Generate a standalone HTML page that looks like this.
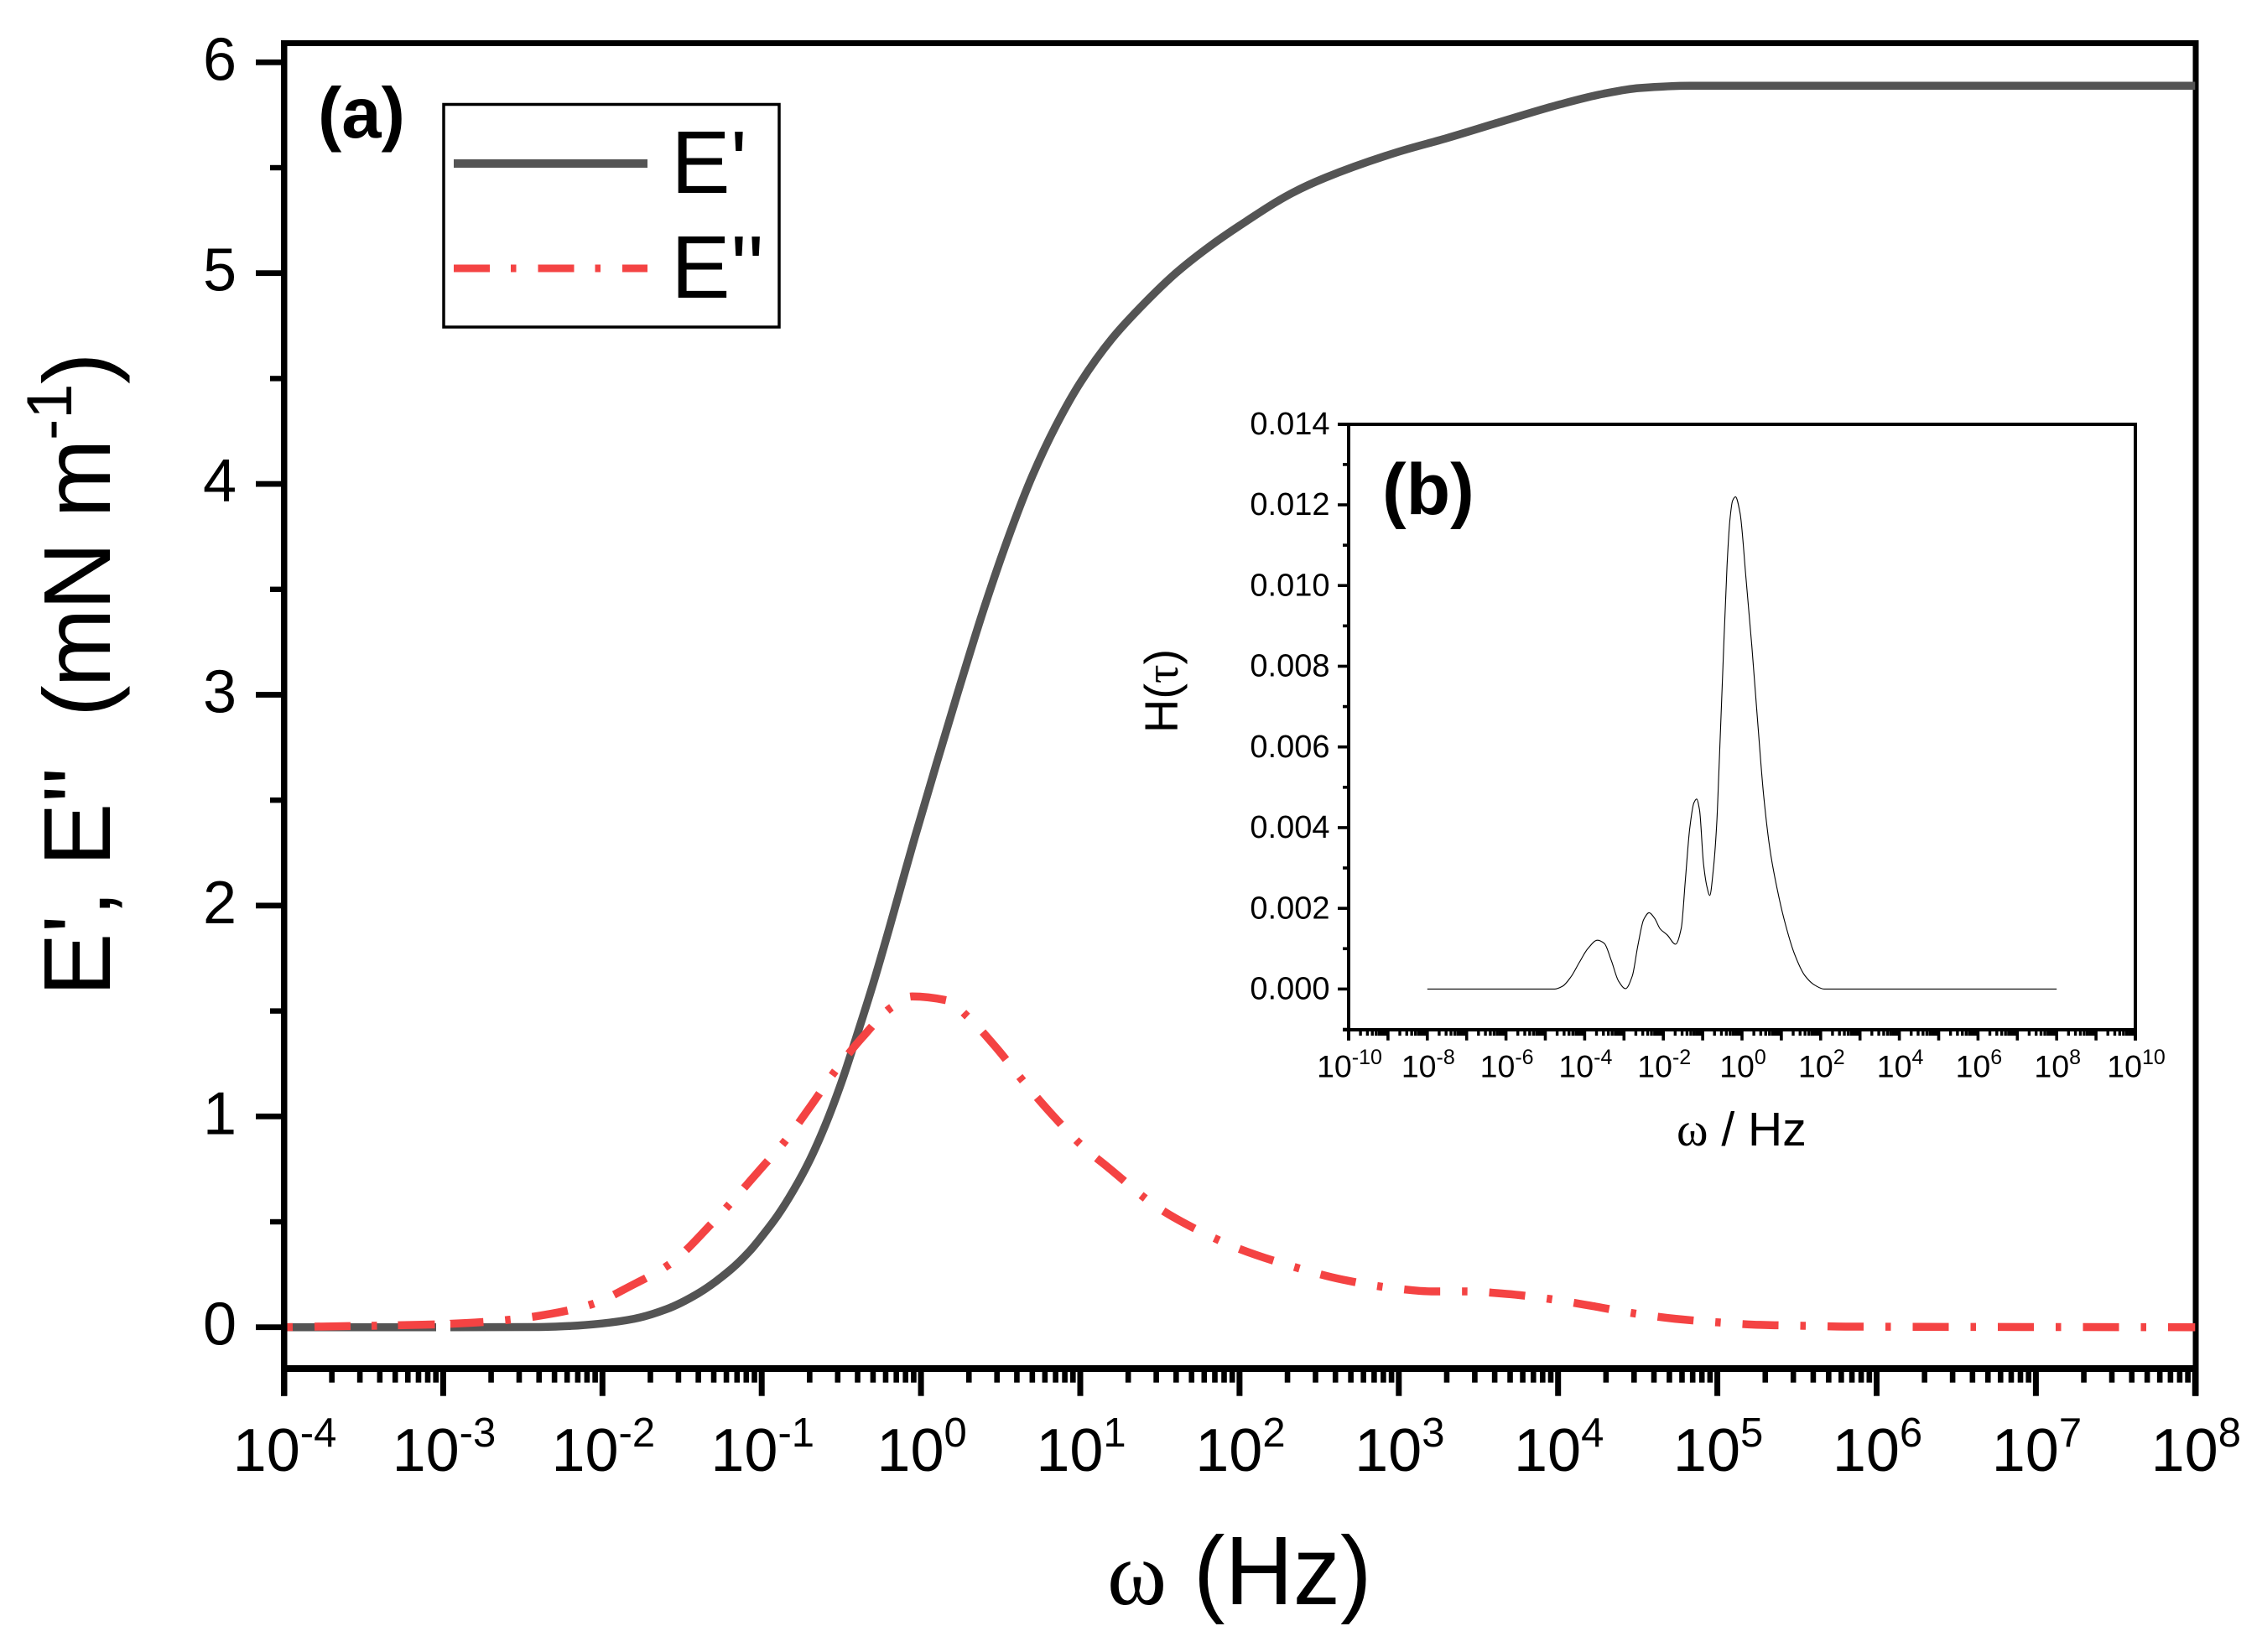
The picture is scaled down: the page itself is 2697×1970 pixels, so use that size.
<!DOCTYPE html>
<html lang="en">
<head>
<meta charset="utf-8">
<title>E' and E'' versus frequency with relaxation spectrum inset</title>
<style>
html,body{margin:0;padding:0;background:#fff;}
svg{display:block;}
text{font-family:"Liberation Sans",sans-serif;fill:#000;}
.serif{font-family:"Liberation Serif",serif;}
</style>
</head>
<body>
<svg id="chart" xmlns="http://www.w3.org/2000/svg" width="2697" height="1970" viewBox="0 0 2697 1970">
  <rect x="0" y="0" width="2697" height="1970" fill="#fff"/>
  <g id="main-axes"></g>
  <g id="main-series"></g>
  <g id="main-left-axis"></g>

  <text x="379" y="164" font-size="85" font-weight="bold">(a)</text>

  <g>
    <rect x="529" y="124.5" width="400" height="265.5" fill="none" stroke="#000" stroke-width="3.5"/>
    <line x1="541" y1="195" x2="772" y2="195" stroke="#545454" stroke-width="10"/>
    <text x="800" y="230" font-size="106">E'</text>
    <line x1="541" y1="320" x2="772" y2="320" stroke="#f44343" stroke-width="9" stroke-dasharray="43 25 6.5 26"/>
    <text x="800" y="355" font-size="106">E''</text>
  </g>

  <g transform="translate(131,0) rotate(-90)">
    <text x="0" y="0" font-size="113"><tspan x="-1188">E'</tspan><tspan x="-1093">,</tspan><tspan x="-1033">E''</tspan><tspan x="-855">(</tspan><tspan x="-819.6">m</tspan><tspan x="-727.7">N</tspan><tspan x="-617.6">m</tspan><tspan x="-525" y="-46" font-size="76">-1</tspan><tspan x="-458" y="0">)</tspan></text>
  </g>

  <g>
    <text class="serif" x="1320" y="1913" font-size="108" style="font-family:'Liberation Serif',serif">ω</text>
    <text transform="translate(1423,1913) scale(0.97,1)" font-size="116">(Hz)</text>
  </g>

  <g id="inset-axes"></g>
  <g id="inset-series"></g>

  <text x="1648" y="613" font-size="86" font-weight="bold">(b)</text>

  <text transform="translate(1404,824) rotate(-90)" font-size="56" text-anchor="middle">H(<tspan style="font-family:'Liberation Serif',serif">τ</tspan>)</text>
  <text x="1999" y="1366" font-size="57"><tspan style="font-family:'Liberation Serif',serif">ω</tspan> / Hz</text>
</svg>

<script>
// ---- Main chart data ----
const mainXDecades = [-4, -3, -2, -1, 0, 1, 2, 3, 4, 5, 6, 7, 8];
const mainYTicks = [0, 1, 2, 3, 4, 5, 6];
const mainYMinorTicks = [0.5, 1.5, 2.5, 3.5, 4.5, 5.5];

const storageLogOmega = [-4, -3, -2.4, -2.2, -2, -1.8, -1.6, -1.4, -1.2, -1.077, -1, -0.9, -0.8, -0.7, -0.6, -0.5, -0.4, -0.3, -0.2, -0.1, -0.04, 0.1, 0.223, 0.4, 0.565, 0.7, 0.85, 1, 1.2, 1.4, 1.6, 1.8, 2, 2.33, 2.54, 3, 3.3, 3.65, 4.01, 4.28, 4.51, 4.83, 8];
const storageModulus = [0, 0, 0.001, 0.006, 0.018, 0.04, 0.085, 0.16, 0.27, 0.36, 0.43, 0.53, 0.65, 0.79, 0.96, 1.16, 1.39, 1.63, 1.89, 2.16, 2.32, 2.68, 2.99, 3.42, 3.78, 4.04, 4.28, 4.48, 4.69, 4.855, 5, 5.12, 5.225, 5.38, 5.453, 5.576, 5.64, 5.72, 5.8, 5.85, 5.878, 5.889, 5.889];

const lossLogOmega = [-4, -3.7, -3.163, -2.847, -2.589, -2.32, -2.062, -1.817, -1.575, -1.304, -0.988, -0.846, -0.689, -0.537, -0.368, -0.184, -0.057, 0.165, 0.297, 0.476, 0.645, 0.818, 1.008, 1.18, 1.487, 1.75, 2.008, 2.33, 2.645, 3.0, 3.204, 3.41, 3.678, 3.946, 4.205, 4.473, 4.734, 5.003, 5.27, 5.54, 5.805, 8];
const lossModulus = [0, 0.004, 0.011, 0.02, 0.035, 0.064, 0.11, 0.198, 0.301, 0.5, 0.767, 0.89, 1.053, 1.217, 1.375, 1.518, 1.569, 1.55, 1.47, 1.323, 1.164, 1.013, 0.863, 0.755, 0.568, 0.456, 0.369, 0.289, 0.226, 0.182, 0.17, 0.17, 0.158, 0.134, 0.102, 0.066, 0.04, 0.023, 0.011, 0.007, 0.003, 0];

// ---- Inset chart data ----
const insetXDecades = [-10, -9, -8, -7, -6, -5, -4, -3, -2, -1, 0, 1, 2, 3, 4, 5, 6, 7, 8, 9, 10];
const insetXLabels = [-10, -8, -6, -4, -2, 0, 2, 4, 6, 8, 10];
const insetYTicks = [0, 0.002, 0.004, 0.006, 0.008, 0.01, 0.012, 0.014];
const insetYMinorTicks = [-0.001, 0.001, 0.003, 0.005, 0.007, 0.009, 0.011, 0.013];

const spectrumLogOmega = [-8, -4.76, -4.56, -4.35, -4.135, -3.92, -3.674, -3.5, -3.32, -3.14, -2.96, -2.79, -2.645, -2.5, -2.36, -2.22, -2.08, -1.9, -1.69, -1.544, -1.44, -1.33, -1.225, -1.154, -1.08, -0.98, -0.89, -0.82, -0.73, -0.64, -0.59, -0.484, -0.38, -0.31, -0.24, -0.166, -0.05, 0.1, 0.25, 0.4, 0.55, 0.72, 0.89, 1.07, 1.33, 1.6, 1.86, 2.09, 8];
const spectrumH = [0, 0, 0.00007, 0.0003, 0.00066, 0.001, 0.00121, 0.00113, 0.0007, 0.0002, 0.00001, 0.00032, 0.00109, 0.00172, 0.00189, 0.00175, 0.00149, 0.00134, 0.00111, 0.00151, 0.0027, 0.00397, 0.00461, 0.00471, 0.00444, 0.00312, 0.00253, 0.00232, 0.00295, 0.00414, 0.00533, 0.008, 0.0105, 0.0116, 0.0121, 0.0122, 0.0118, 0.0102, 0.0085, 0.0066, 0.0048, 0.0034, 0.0025, 0.00173, 0.00088, 0.00033, 0.00009, 0, 0];

// ---- Axis functions ----
function mainX(logOmega) { return 338.5 + (logOmega + 4) * 189.9; }
function mainY(value) { return 1582.7 - value * 251.4; }
function insetX(logOmega) { return 1608 + (logOmega + 10) * 46.9; }
function insetY(value) { return 1179.4 - (value / 0.002) * 96.23; }

const SVG_NS = 'http://www.w3.org/2000/svg';

function make(tag, parent, attrs) {
  const el = document.createElementNS(SVG_NS, tag);
  for (const k in attrs) el.setAttribute(k, attrs[k]);
  parent.appendChild(el);
  return el;
}

// Monotone cubic path through the points
function smoothPath(xs, ys) {
  const n = xs.length;
  const m = new Array(n).fill(0);
  const d = [];
  for (let i = 0; i < n - 1; i++) d.push((ys[i + 1] - ys[i]) / (xs[i + 1] - xs[i]));
  m[0] = d[0];
  m[n - 1] = d[n - 2];
  for (let i = 1; i < n - 1; i++) {
    if (d[i - 1] * d[i] <= 0) {
      m[i] = 0;
    } else {
      const h0 = xs[i] - xs[i - 1];
      const h1 = xs[i + 1] - xs[i];
      const w0 = 2 * h1 + h0;
      const w1 = h1 + 2 * h0;
      m[i] = (w0 + w1) / (w0 / d[i - 1] + w1 / d[i]);
    }
  }
  let p = 'M' + xs[0].toFixed(2) + ' ' + ys[0].toFixed(2);
  for (let i = 0; i < n - 1; i++) {
    const h = (xs[i + 1] - xs[i]) / 3;
    p += 'C' + (xs[i] + h).toFixed(2) + ' ' + (ys[i] + m[i] * h).toFixed(2) + ' ' +
         (xs[i + 1] - h).toFixed(2) + ' ' + (ys[i + 1] - m[i + 1] * h).toFixed(2) + ' ' +
         xs[i + 1].toFixed(2) + ' ' + ys[i + 1].toFixed(2);
  }
  return p;
}

// Power-of-ten tick label with a real superscript
function powerLabel(parent, cx, baseY, exponent, size, supSize, supRise) {
  const t = make('text', parent, { x: cx, y: baseY, 'font-size': size, 'text-anchor': 'middle' });
  t.appendChild(document.createTextNode('10'));
  const s = make('tspan', t, { dy: -supRise, 'font-size': supSize });
  s.textContent = String(exponent);
  return t;
}

const mainAxes = document.getElementById('main-axes');
const mainLeft = document.getElementById('main-left-axis');
const mainSeries = document.getElementById('main-series');
const insetAxes = document.getElementById('inset-axes');
const insetSeries = document.getElementById('inset-series');

// ---- Main frame ----
const mainTop = make('rect', mainAxes, { x: 335, y: 48, width: 2286.5, height: 7, fill: '#000' });



const mainBottom = make('rect', mainAxes, { x: 335, y: 1628, width: 2286.5, height: 8, fill: '#000' });



const mainRight = make('rect', mainAxes, { x: 2614.5, y: 48, width: 7, height: 1616.7, fill: '#000' });



const mainLeftLine = make('rect', mainLeft, { x: 335, y: 48, width: 7.5, height: 1616.7, fill: '#000' });



// Main X ticks and labels
mainXDecades.forEach(function (dec, i) {
  const x = mainX(dec);
  const major = make('rect', mainAxes, { x: x - 3.5, y: 1632, width: 7, height: 32.7, fill: '#000' });
  
  

  const label = powerLabel(mainAxes, x + 1, 1754, dec, 72, 49, 29);
  
  

  if (i < mainXDecades.length - 1) {
    for (let k = 2; k <= 9; k++) {
      const mx = mainX(dec + Math.log10(k));
      const minor = make('rect', mainAxes, { x: mx - 3.3, y: 1632, width: 6.6, height: 16.7, fill: '#000' });
      
      
    }
  }
});

// Main Y ticks and labels
mainYTicks.forEach(function (v) {
  const y = mainY(v);
  const tick = make('rect', mainAxes, { x: 305, y: y - 3.4, width: 31, height: 6.8, fill: '#000' });
  
  

  const label = make('text', mainAxes, { x: 282, y: y + 21, 'font-size': 72, 'text-anchor': 'end' });
  label.textContent = String(v);
  
  
});
mainYMinorTicks.forEach(function (v) {
  const y = mainY(v);
  const tick = make('rect', mainAxes, { x: 322, y: y - 3.2, width: 14, height: 6.4, fill: '#000' });
  
  
});

// ---- Main series ----
const storagePath = make('path', mainSeries, {
  d: smoothPath(storageLogOmega.map(mainX), storageModulus.map(mainY)),
  fill: 'none', stroke: '#545454', 'stroke-width': 9.5, 'stroke-linejoin': 'round'
});



// Dash-dot pattern, with the phase jump seen in the source near 10^-3
const dashPattern = [0, 4, 6.5, 26, 43, 25, 6.5, 25, 44, 18, 40, 26, 6.5, 26];
for (let r = 0; r < 40; r++) dashPattern.push(43, 26, 6.5, 26);

const lossPath = make('path', mainSeries, {
  d: smoothPath(lossLogOmega.map(mainX), lossModulus.map(mainY)),
  fill: 'none', stroke: '#f44343', 'stroke-width': 9.5, 'stroke-dasharray': dashPattern.join(' ')
});



const gapMark = make('rect', mainSeries, { x: 520, y: 1575, width: 17, height: 12.5, fill: '#fff' });



// ---- Inset frame ----
const insetLeftEdge = insetX(-10);
const insetRightEdge = insetX(10);

const insetTop = make('rect', insetAxes, { x: 1595, y: 504, width: insetRightEdge - 1595 + 2, height: 4, fill: '#000' });



const insetBottom = make('rect', insetAxes, { x: 1601, y: 1226, width: insetRightEdge - 1601 + 2, height: 4, fill: '#000' });



const insetLeftLine = make('rect', insetAxes, { x: insetLeftEdge - 2, y: 504, width: 4, height: 736.7, fill: '#000' });



const insetRightLine = make('rect', insetAxes, { x: insetRightEdge - 2, y: 504, width: 4, height: 736.7, fill: '#000' });



// Inset X ticks
insetXDecades.forEach(function (dec, i) {
  const x = insetX(dec);
  const major = make('rect', insetAxes, { x: x - 1.8, y: 1228, width: 3.6, height: 12.7, fill: '#000' });
  
  

  if (i < insetXDecades.length - 1) {
    for (let k = 2; k <= 9; k++) {
      const mx = insetX(dec + Math.log10(k));
      const minor = make('rect', insetAxes, { x: mx - 1.7, y: 1228, width: 3.4, height: 7, fill: '#000' });
      
      
    }
  }
});
insetXLabels.forEach(function (dec) {
  const label = powerLabel(insetAxes, insetX(dec) + 1, 1284.5, dec, 37.5, 25, 15.5);
  
  
});

// Inset Y ticks
insetYTicks.forEach(function (v) {
  const y = insetY(v);
  const tick = make('rect', insetAxes, { x: 1595, y: y - 1.8, width: 13, height: 3.6, fill: '#000' });
  
  

  const label = make('text', insetAxes, { x: 1585.5, y: y + 12.2, 'font-size': 38, 'text-anchor': 'end' });
  label.textContent = v.toFixed(3);
  
  
});
insetYMinorTicks.forEach(function (v) {
  const y = insetY(v);
  const tick = make('rect', insetAxes, { x: 1601, y: y - 1.8, width: 7, height: 3.6, fill: '#000' });
  
  
});

// Inset series
const spectrumPath = make('path', insetSeries, {
  d: smoothPath(spectrumLogOmega.map(insetX), spectrumH.map(insetY)),
  fill: 'none', stroke: '#000', 'stroke-width': 1.1
});


</script>
</body>
</html>
